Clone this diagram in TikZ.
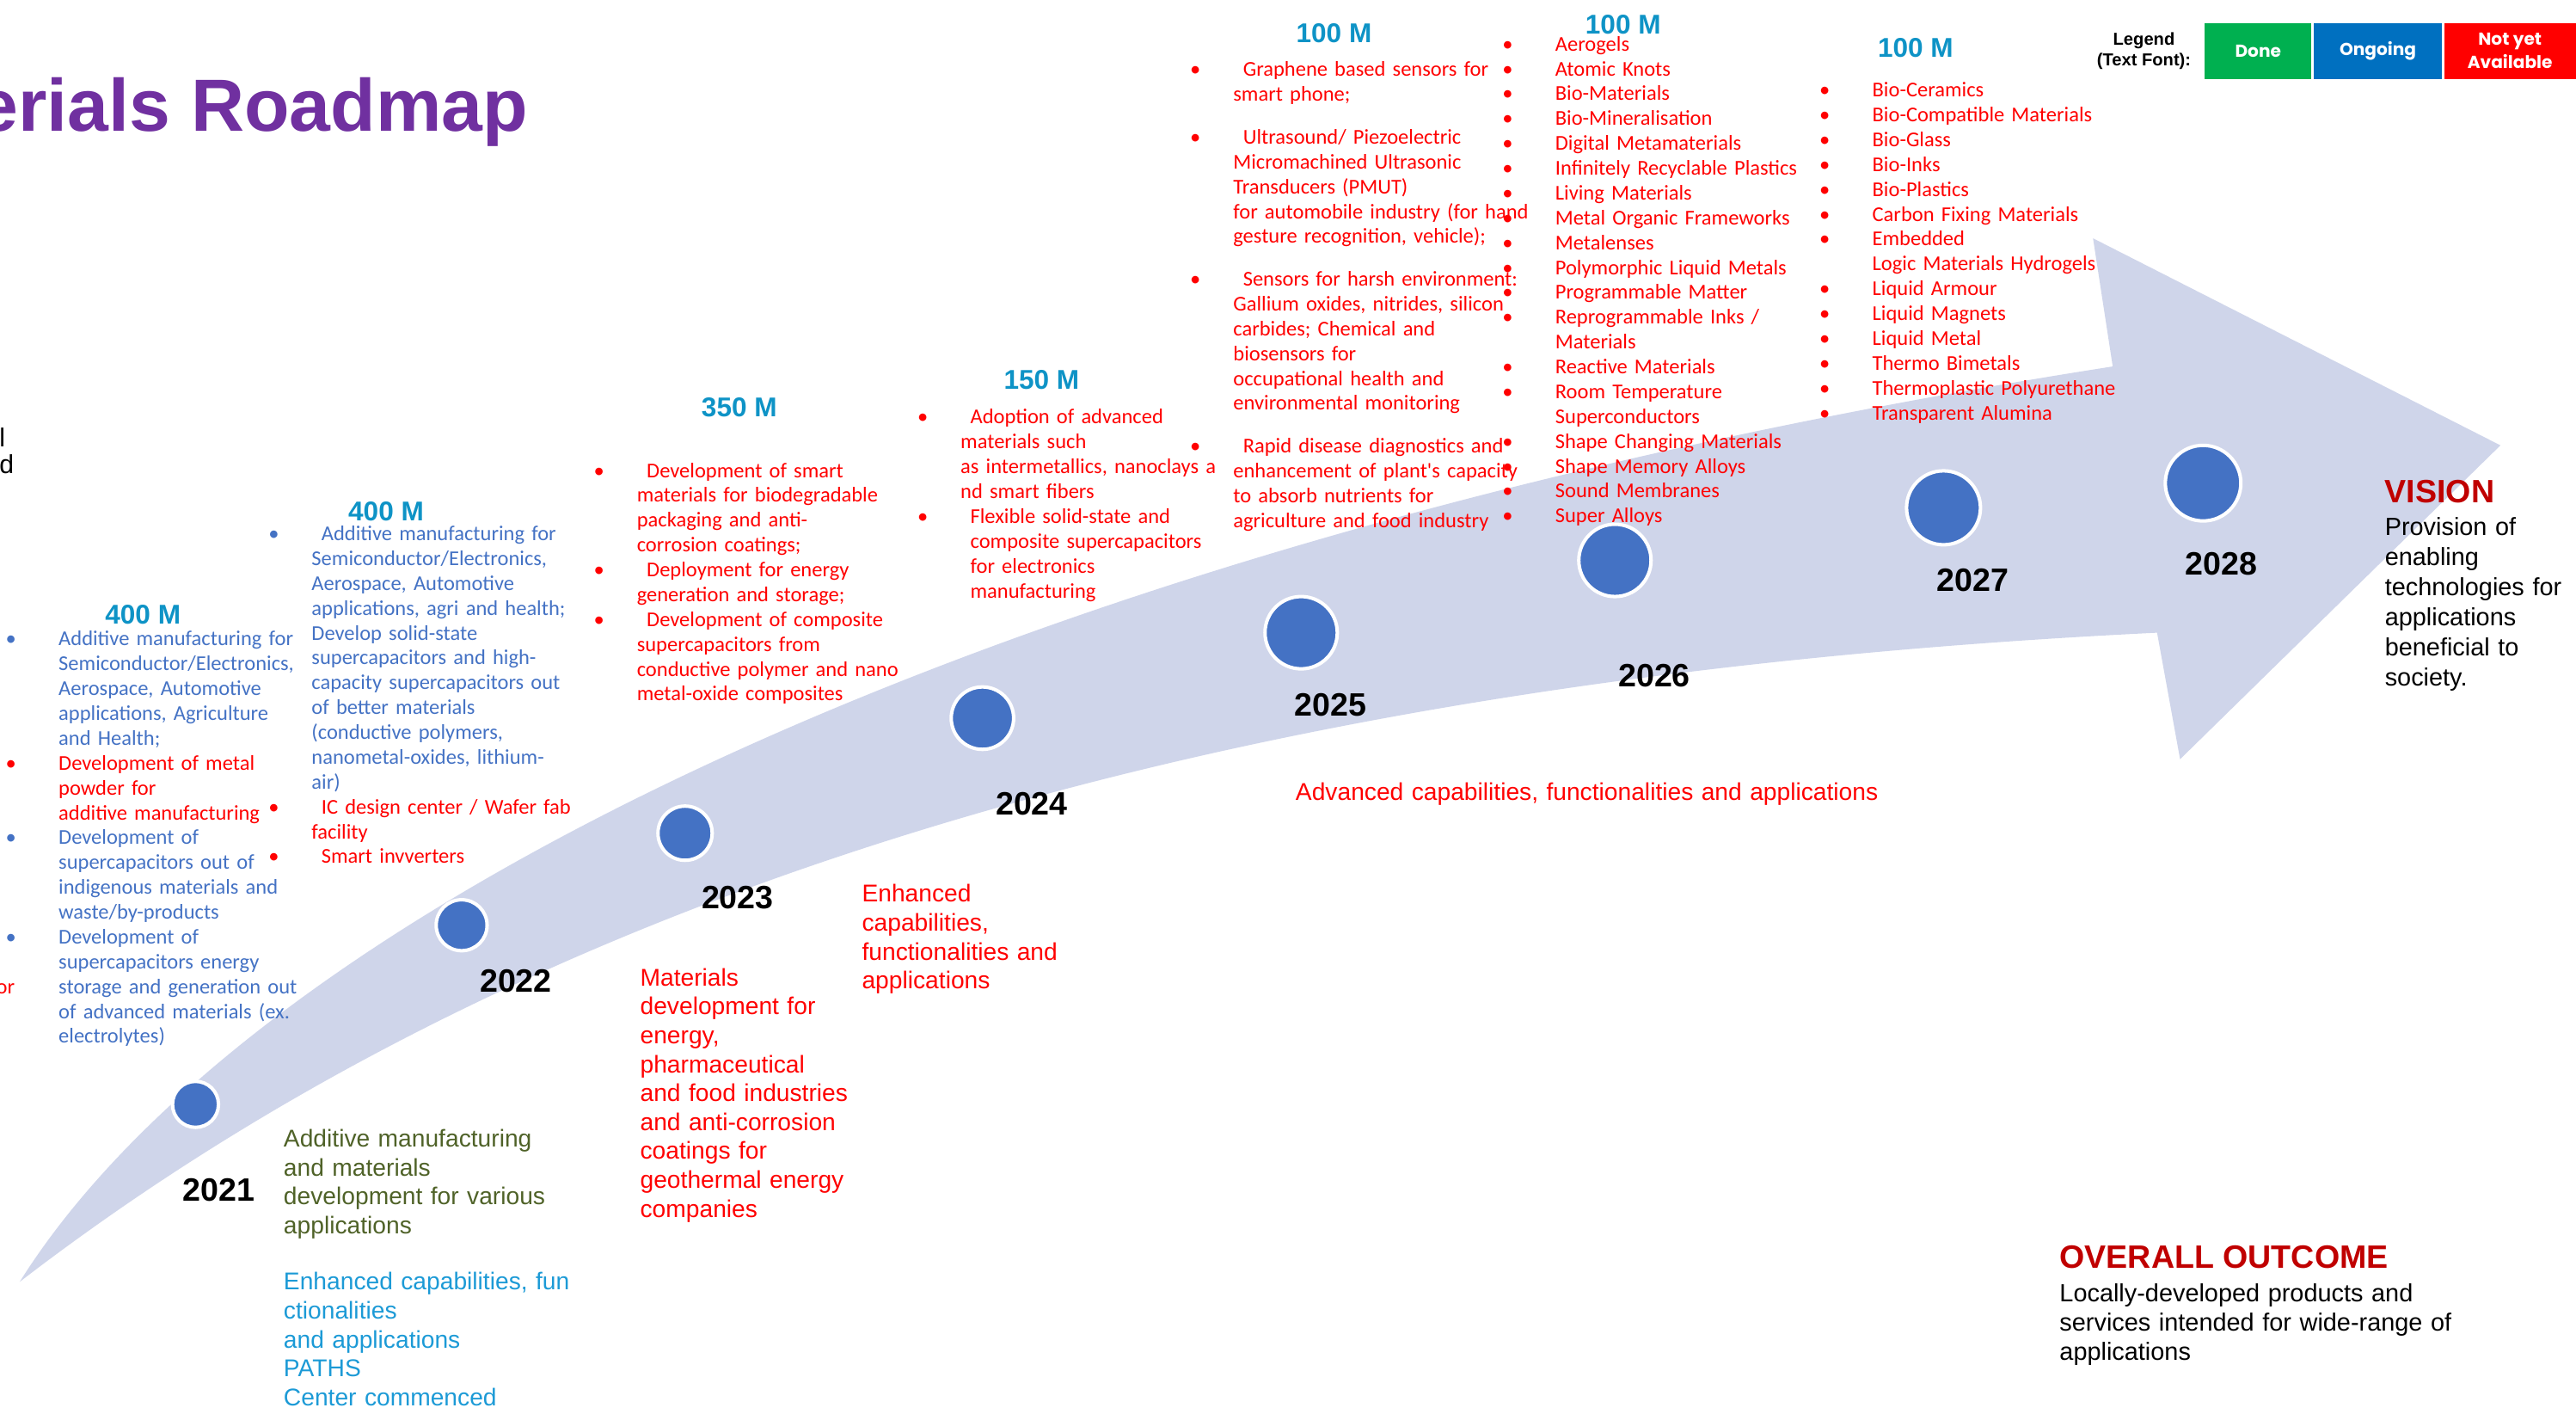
\documentclass[tikz,border=0pt]{standalone}
\usepackage{fontspec}
\setmainfont{Liberation Sans}
\newfontfamily\listfont{Carlito}
\newfontfamily\legendfont{Poppins}
\usepackage{xcolor}
\usetikzlibrary{positioning}
\definecolor{titlepurple}{HTML}{7030A0}
\definecolor{bandgray}{HTML}{CFD5EA}
\definecolor{dotblue}{HTML}{4472C4}
\definecolor{txtblue}{HTML}{4472C4}
\definecolor{txtred}{HTML}{FF0000}
\definecolor{headblue}{HTML}{0E93C6}
\definecolor{darkred}{HTML}{C00000}
\definecolor{olivegreen}{HTML}{4F6228}
\definecolor{pathsblue}{HTML}{1C9AD6}
\definecolor{donegreen}{HTML}{00B050}
\definecolor{ongoingblue}{HTML}{0070C0}
\definecolor{notyetred}{HTML}{FF0000}
\setlength{\parindent}{0pt}

\newcommand{\itm}{\leavevmode\llap{\textbullet\hspace{7.35pt}}}
\newcommand{\indnt}{\leavevmode\hspace*{1.7pt}}
\newcommand{\itmi}{\indnt\itm}

\tikzset{
  listtxt/.style={anchor=base west, align=left, inner sep=0pt, text width=60mm,
    font=\listfont\fontsize{3.65}{4.3}\selectfont},
  bodytxt/.style={anchor=base west, align=left, inner sep=0pt, text width=60mm,
    font=\fontsize{4.2}{5}\selectfont},
  budget/.style={font=\bfseries\fontsize{4.7}{5}\selectfont, text=headblue, inner sep=0pt},
  yeardot/.style={circle, fill=dotblue, draw=white, line width=0.6pt, inner sep=0pt},
  yearlbl/.style={font=\bfseries\fontsize{5.6}{6}\selectfont, inner sep=0pt},
  legendbox/.style={minimum height=3.4mm, inner sep=0pt, text=white, align=center,
    font=\legendfont\bfseries\fontsize{3}{4}\selectfont}
}

\begin{document}
\begin{tikzpicture}[x=0.1mm, y=-0.1mm]
  \useasboundingbox (0,0) rectangle (1568,860);

  % the big curved arrow
  \fill[bandgray] (12,780) .. controls (150,560) and (600,330) .. (1286,223)
    -- (1274,145) -- (1522,271) -- (1327,462) -- (1313,385)
    .. controls (800,410) and (350,520) .. (12,780) -- cycle;

  \node[anchor=base east, inner sep=0pt, text=titlepurple,
        font=\bfseries\fontsize{12.8}{14}\selectfont] (title) at (322,80) {erials Roadmap};

  % legend
  \node[inner sep=0pt, align=center, font=\bfseries\fontsize{3}{3.6}\selectfont] (lgtitle)
    at (1305,31) {Legend\\(Text Font):};
  \node[legendbox, fill=donegreen, minimum width=6.5mm] (lgdone) at (1374.5,31) {Done};
  \node[legendbox, fill=ongoingblue, minimum width=7.8mm, right=0pt of lgdone] (lgongoing) {Ongoing};
  \node[legendbox, fill=notyetred, minimum width=8mm, right=0pt of lgongoing] (lgnotyet) {Not yet\\Available};

  % milestones
  \node[yeardot, minimum size=2.8mm] (d21) at (119,672) {};
  \node[yeardot, minimum size=3.1mm] (d22) at (281,563) {};
  \node[yeardot, minimum size=3.3mm] (d23) at (417,507) {};
  \node[yeardot, minimum size=3.8mm] (d24) at (598,437) {};
  \node[yeardot, minimum size=4.4mm] (d25) at (792,385) {};
  \node[yeardot, minimum size=4.4mm] (d26) at (983,341) {};
  \node[yeardot, minimum size=4.5mm] (d27) at (1183,309) {};
  \node[yeardot, minimum size=4.6mm] (d28) at (1341,294) {};

  \node[yearlbl] (y21) at (133,724) {2021};
  \node[yearlbl] (y22) at (314,597) {2022};
  \node[yearlbl] (y23) at (449,546) {2023};
  \node[yearlbl] (y24) at (628,489) {2024};
  \node[yearlbl] (y25) at (810,429) {2025};
  \node[yearlbl] (y26) at (1007,411) {2026};
  \node[yearlbl] (y27) at (1201,353) {2027};
  \node[yearlbl] (y28) at (1352,343) {2028};

  % budgets
  \node[budget] (b21) at (87,374) {400 M};
  \node[budget] (b22) at (235,311) {400 M};
  \node[budget] (b23) at (450,248) {350 M};
  \node[budget] (b24) at (634,231) {150 M};
  \node[budget] (b25) at (812,20) {100 M};
  \node[budget] (b26) at (988,15) {100 M};
  \node[budget] (b27) at (1166,29) {100 M};

  % cut-off text at the left edge
  \node[anchor=base west, inner sep=0pt, font=\fontsize{4.5}{5}\selectfont] (cutl) at (-1,272) {l};
  \node[anchor=base west, inner sep=0pt, font=\fontsize{4.5}{5}\selectfont] (cutd) at (-1,288) {d};
  \node[listtxt, text=txtred, text width=5mm] (cutor) at (-3,605) {or};

  % activities per year
  \node[listtxt, text=txtblue] (l21) at (35,393) {\itm Additive manufacturing for\\
    Semiconductor/Electronics,\\ Aerospace, Automotive\\ applications, Agriculture\\ and Health;\\
    \color{txtred}\itm Development of metal\\ powder for\\ additive manufacturing\\
    \color{txtblue}\itm Development of\\ supercapacitors out of\\ indigenous materials and\\ waste/by-products\\
    \itm Development of\\ supercapacitors energy\\ storage and generation out\\ of advanced materials (ex.\\ electrolytes)};

  \node[listtxt, text=txtblue] (l22) at (189,329) {\itmi Additive manufacturing for\\
    Semiconductor/Electronics,\\ Aerospace, Automotive\\ applications, agri and health;\\
    Develop solid-state\\ supercapacitors and high-\\ capacity supercapacitors out\\ of better materials\\
    (conductive polymers,\\ nanometal-oxides, lithium-\\ air)\\
    \color{txtred}\itmi IC design center / Wafer fab\\ facility\\
    \itmi Smart invverters};

  \node[listtxt, text=txtred] (l23) at (387,290.5) {\itmi Development of smart\\
    materials for biodegradable\\ packaging and anti-\\ corrosion coatings;\\
    \itmi Deployment for energy\\ generation and storage;\\
    \itmi Development of composite\\ supercapacitors from\\ conductive polymer and nano\\ metal-oxide composites};

  \node[listtxt, text=txtred] (l24) at (584,258) {\itmi Adoption of advanced\\
    materials such\\ as intermetallics, nanoclays a\\ nd smart fibers\\
    \itmi Flexible solid-state and\\ \indnt composite supercapacitors\\ \indnt for electronics\\ \indnt manufacturing};

  \node[listtxt, text=txtred] (l25) at (750,46.5) {\itmi Graphene based sensors for\\ smart phone;\\[3.1pt]
    \itmi Ultrasound/ Piezoelectric\\ Micromachined Ultrasonic\\ Transducers (PMUT)\\
    for automobile industry (for hand\\ gesture recognition, vehicle);\\[3.1pt]
    \itmi Sensors for harsh environment:\\ Gallium oxides, nitrides, silicon\\ carbides; Chemical and\\
    biosensors for\\ occupational health and\\ environmental monitoring\\[3.1pt]
    \itmi Rapid disease diagnostics and\\ enhancement of plant's capacity\\
    to absorb nutrients for\\ agriculture and food industry};

  \node[listtxt, text=txtred] (l26) at (946,31) {\itm Aerogels\\ \itm Atomic Knots\\ \itm Bio-Materials\\
    \itm Bio-Mineralisation\\ \itm Digital Metamaterials\\ \itm Infinitely Recyclable Plastics\\
    \itm Living Materials\\ \itm Metal Organic Frameworks\\ \itm Metalenses\\
    \itm Polymorphic Liquid Metals\\ \itm Programmable Matter\\ \itm Reprogrammable Inks /\\ Materials\\
    \itm Reactive Materials\\ \itm Room Temperature\\ Superconductors\\ \itm Shape Changing Materials\\
    \itm Shape Memory Alloys\\ \itm Sound Membranes\\ \itm Super Alloys};

  \node[listtxt, text=txtred] (l27) at (1139,59) {\itm Bio-Ceramics\\ \itm Bio-Compatible Materials\\
    \itm Bio-Glass\\ \itm Bio-Inks\\ \itm Bio-Plastics\\ \itm Carbon Fixing Materials\\ \itm Embedded\\
    Logic Materials Hydrogels\\ \itm Liquid Armour\\ \itm Liquid Magnets\\ \itm Liquid Metal\\
    \itm Thermo Bimetals\\ \itm Thermoplastic Polyurethane\\ \itm Transparent Alumina};

  % outcomes along the arrow
  \node[bodytxt, text=olivegreen] (o21) at (172,698) {Additive manufacturing\\ and materials\\
    development for various\\ applications};
  \node[bodytxt, text=pathsblue] (o21b) at (172,785) {Enhanced capabilities, fun\\ ctionalities\\
    and applications\\ PATHS\\ Center commenced};
  \node[bodytxt, text=txtred] (o22) at (389,600) {Materials\\ development for\\ energy,\\ pharmaceutical\\
    and food industries\\ and anti-corrosion\\ coatings for\\ geothermal energy\\ companies};
  \node[bodytxt, text=txtred] (o23) at (524,549) {Enhanced\\ capabilities,\\ functionalities and\\ applications};
  \node[bodytxt, text=txtred] (o25) at (788,487) {Advanced capabilities, functionalities and applications};

  % vision and overall outcome
  \node[anchor=west, inner sep=0pt, text=darkred, font=\bfseries\fontsize{5.6}{6}\selectfont] (vision)
    at (1451,299) {VISION};
  \node[bodytxt, font=\fontsize{4.3}{5.2}\selectfont] (visiontxt) at (1451,326) {Provision of\\ enabling\\
    technologies for\\ applications\\ beneficial to\\ society.};
  \node[anchor=west, inner sep=0pt, text=darkred, font=\bfseries\fontsize{5.6}{6}\selectfont] (overall)
    at (1253,765) {OVERALL OUTCOME};
  \node[bodytxt, font=\fontsize{4.3}{5.1}\selectfont] (overalltxt) at (1253,792) {Locally-developed products and\\
    services intended for wide-range of\\ applications};
\end{tikzpicture}
\end{document}
